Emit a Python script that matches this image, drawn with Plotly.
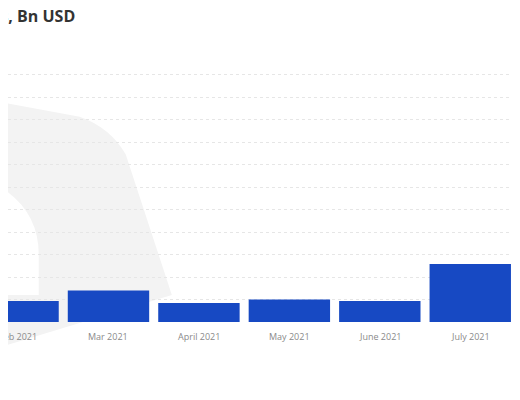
import plotly.graph_objects as go

months = ["Jan 2021", "Feb 2021", "Mar 2021", "April 2021", "May 2021",
          "June 2021", "July 2021", "Aug 2021"]
volumes = [0.3, 0.93, 1.4, 0.85, 1.0, 0.93, 2.58, 10.5]
bar_colours = ["#1749c3"] * 7 + ["#a9cbe6"]

fig = go.Figure(
    go.Bar(
        x=list(range(len(months))),
        y=volumes,
        marker={"color": bar_colours, "line": {"width": 0}},
        width=0.9,
    )
)

# faint watermark shape behind the bars
fig.add_shape(
    type="path",
    xref="paper", yref="paper",
    path="M -0.2 0.88 L 0.14 0.76 Q 0.2 0.72 0.23 0.62 L 0.32 0.1 L -0.2 -0.2 Z",
    fillcolor="#f3f3f3", line={"width": 0}, layer="below",
)
fig.add_shape(
    type="path",
    xref="paper", yref="paper",
    path="M -0.2 0.6 Q 0.06 0.55 0.06 0.25 L 0.06 0.1 L -0.2 0.1 Z",
    fillcolor="white", line={"width": 0}, layer="below",
)

fig.add_annotation(
    text="<b>NFT trading volumes, Bn USD</b>",
    xref="paper", yref="paper", x=69 / 512, y=1, yshift=36,
    xanchor="right", yanchor="middle", showarrow=False,
    font={"family": "Open Sans", "size": 16, "color": "#333333"},
)

# month labels as annotations so the clipped Feb label still shows
for i, m in enumerate(months):
    fig.add_annotation(
        text=m, x=i, xref="x", y=0, yref="paper", yshift=-14,
        showarrow=False, yanchor="middle",
        font={"family": "Open Sans", "size": 9, "color": "#8a8a8a"},
    )

fig.update_layout(
    width=512, height=392,
    margin={"l": 0, "r": 0, "t": 44, "b": 78},
    plot_bgcolor="white", paper_bgcolor="white",
    showlegend=False,
    xaxis={
        "range": [0.889, 6.55],
        "showticklabels": False,
        "showgrid": False, "zeroline": False, "showline": False,
    },
    yaxis={
        "range": [0, 12],
        "dtick": 1,
        "showticklabels": False,
        "gridcolor": "#e6e6e6", "griddash": "dot",
        "zeroline": False,
    },
)

fig.write_html("out.html")
